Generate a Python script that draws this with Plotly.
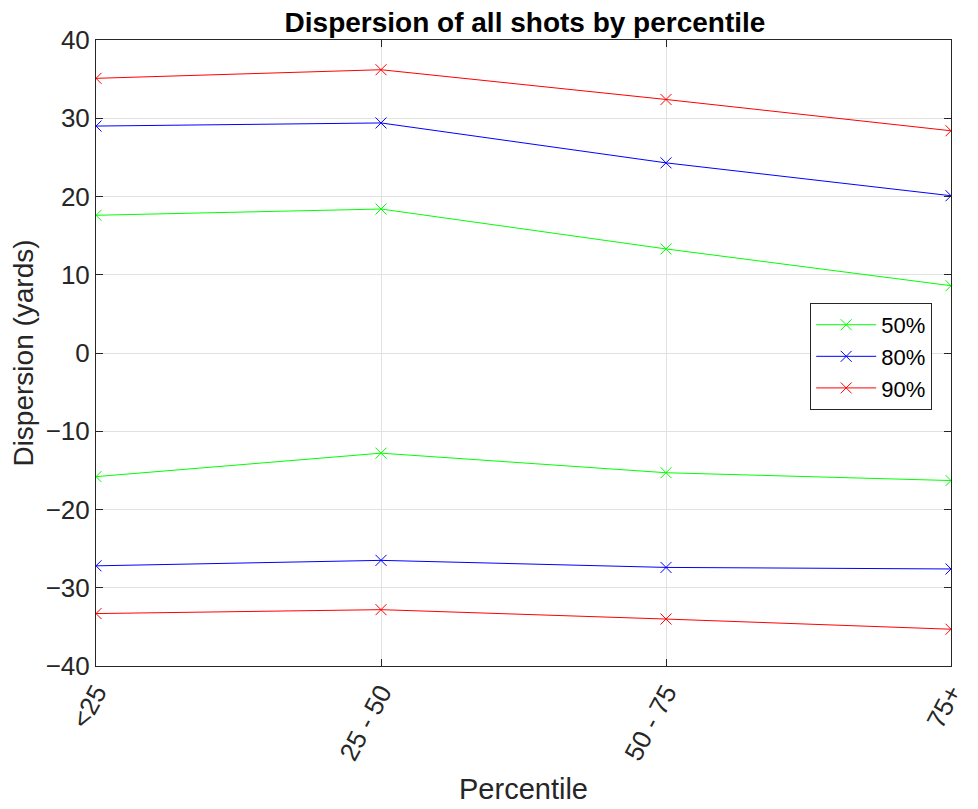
import plotly.graph_objects as go

categories = ['<25', '25 - 50', '50 - 75', '75+']

# upper and lower dispersion bounds for each confidence level
upper_50 = [17.6, 18.4, 13.3, 8.6]
lower_50 = [-15.8, -12.8, -15.3, -16.3]
upper_80 = [29.0, 29.4, 24.3, 20.1]
lower_80 = [-27.2, -26.5, -27.4, -27.6]
upper_90 = [35.1, 36.2, 32.4, 28.4]
lower_90 = [-33.3, -32.8, -34.0, -35.3]

series = [
    ('50%', upper_50, lower_50, '#00ff00'),
    ('80%', upper_80, lower_80, '#0000ff'),
    ('90%', upper_90, lower_90, '#ff0000'),
]

fig = go.Figure()
for name, up, lo, col in series:
    for vals, show in [(up, True), (lo, False)]:
        fig.add_trace(go.Scatter(
            x=categories, y=vals, name=name, legendgroup=name, showlegend=show,
            mode='lines+markers',
            line=dict(color=col, width=1),
            marker=dict(symbol='x-thin-open', size=11, line=dict(color=col, width=1)),
        ))

font = 'Liberation Sans, Arial'
axis_common = dict(
    showline=True, linecolor='#262626', linewidth=1, mirror='ticks',
    ticks='inside', ticklen=7, tickcolor='#262626', automargin=False,
    showgrid=True, gridcolor='#e1e1e1', gridwidth=1, zeroline=False,
    tickfont=dict(family=font, size=26, color='#262626'),
)

# the page adds an 8px body margin, so the figure is 8px smaller each way
fig.update_layout(
    width=970, height=801,
    paper_bgcolor='white', plot_bgcolor='white',
    margin=dict(l=88, r=27, t=32, b=143),
    title=dict(text='<b>Dispersion of all shots by percentile</b>', x=0.533, xanchor='center',
               y=1.0, yanchor='top', pad=dict(t=4),
               font=dict(family=font, size=28, color='black')),
    xaxis=dict(axis_common, tickangle=-62, range=[0, 3], type='category',
               title=dict(text='Percentile', standoff=14,
                          font=dict(family=font, size=29, color='#262626'))),
    yaxis=dict(axis_common, range=[-40, 40], dtick=10,
               title=dict(text='Dispersion (yards)', standoff=4,
                          font=dict(family=font, size=28, color='#262626'))),
    legend=dict(x=0.978, xanchor='right', y=0.58, yanchor='top',
                bordercolor='#262626', borderwidth=1, bgcolor='white',
                font=dict(family=font, size=22, color='black'),
                itemwidth=60, tracegroupgap=0),
)

fig.write_html("out.html")
